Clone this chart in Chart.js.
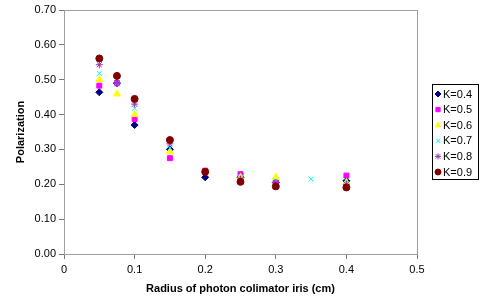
<!DOCTYPE html>
<html>
<head>
<meta charset="utf-8">
<script src="https://cdn.jsdelivr.net/npm/chart.js@4.4.0/dist/chart.umd.min.js"></script>
<style>
  html, body { margin: 0; padding: 0; background: #fff; }
  #wrap { width: 481px; height: 297px; position: relative; }
</style>
</head>
<body>
<div id="wrap"><canvas id="chart" width="481" height="297"></canvas></div>
<script>
// radius values (cm) and polarization per K series
const radius = [0.05, 0.075, 0.1, 0.15, 0.2, 0.25, 0.3, 0.4];
const radiusK07 = [0.05, 0.075, 0.1, 0.15, 0.2, 0.25, 0.3, 0.35, 0.4];
const seriesNames = ['K=0.4', 'K=0.5', 'K=0.6', 'K=0.7', 'K=0.8', 'K=0.9'];

const polK04 = [0.464, 0.490, 0.370, 0.300, 0.220, 0.220, 0.205, 0.210];
const polK05 = [0.483, 0.490, 0.387, 0.275, 0.239, 0.229, 0.207, 0.225];
const polK06 = [0.500, 0.459, 0.400, 0.293, 0.235, 0.220, 0.220, 0.205];
const polK07 = [0.518, 0.490, 0.418, 0.304, 0.235, 0.220, 0.210, 0.215, 0.210];
const polK08 = [0.543, 0.492, 0.430, 0.316, 0.235, 0.215, 0.205, 0.200];
const polK09 = [0.561, 0.511, 0.445, 0.327, 0.236, 0.207, 0.194, 0.191];

const yTicks = [0, 0.1, 0.2, 0.3, 0.4, 0.5, 0.6, 0.7];
const xTicks = [0, 0.1, 0.2, 0.3, 0.4, 0.5];

const FONT = "'Liberation Sans', Arial, sans-serif";

function pts(xs, ys) {
    return xs.map((x, i) => ({ x: x, y: ys[i] }));
}

const styles = [
    { pointStyle: 'rectRot', color: '#000080', r: 3.5 },
    { pointStyle: 'rect', color: '#ff00ff', r: 3.5 },
    { pointStyle: 'triangle', color: '#ffff00', r: 4 },
    { pointStyle: 'crossRot', color: '#00ffff', r: 3.5 },
    { pointStyle: 'star', color: '#9933aa', r: 3.5 },
    { pointStyle: 'circle', color: '#800000', r: 3.5 },
];

const allData = [
    pts(radius, polK04), pts(radius, polK05), pts(radius, polK06),
    pts(radiusK07, polK07), pts(radius, polK08), pts(radius, polK09)
];

const datasets = seriesNames.map((name, i) => ({
    label: name,
    data: allData[i],
    pointStyle: styles[i].pointStyle,
    pointRadius: styles[i].r,
    pointHoverRadius: styles[i].r,
    backgroundColor: styles[i].color,
    borderColor: styles[i].color,
    borderWidth: 1,
    showLine: false,
    order: seriesNames.length - i
}));

// gray plot-area frame behind the points
const plotFrame = {
    id: 'plotFrame',
    beforeDatasetsDraw(chart) {
        const { ctx, chartArea: a } = chart;
        ctx.save();
        ctx.strokeStyle = '#a0a0a0';
        ctx.lineWidth = 1;
        ctx.strokeRect(Math.round(a.left) + 0.5, Math.round(a.top) + 0.5,
            Math.round(a.right - a.left), Math.round(a.bottom - a.top));
        ctx.restore();
    }
};

// boxed legend at the right like the original
const boxLegend = {
    id: 'boxLegend',
    afterDraw(chart) {
        const ctx = chart.ctx;
        const left = 432, top = 84, w = 46, h = 95, row = 15.6;
        ctx.save();
        ctx.strokeStyle = '#000';
        ctx.lineWidth = 1;
        ctx.strokeRect(left + 0.5, top + 0.5, w, h);
        ctx.font = '11px ' + FONT;
        ctx.textBaseline = 'middle';
        ctx.fillStyle = '#000';
        chart.data.datasets.forEach((ds, i) => {
            const y = top + 10 + i * row;
            ctx.fillStyle = ds.backgroundColor;
            ctx.strokeStyle = ds.borderColor;
            ctx.lineWidth = 1;
            Chart.helpers.drawPoint(ctx, { pointStyle: ds.pointStyle, radius: 3, borderWidth: 1 }, left + 6, y);
            ctx.fillStyle = '#000';
            ctx.fillText(ds.label, left + 11, y + 0.5);
        });
        ctx.restore();
    }
};

new Chart(document.getElementById('chart'), {
    type: 'scatter',
    data: { datasets: datasets },
    options: {
        responsive: false,
        animation: false,
        layout: { padding: { top: 10, right: 64, left: 0, bottom: 0 } },
        plugins: {
            legend: { display: false },
            tooltip: { enabled: false }
        },
        scales: {
            x: {
                type: 'linear',
                min: 0,
                max: 0.5,
                afterBuildTicks: (axis) => { axis.ticks = xTicks.map(v => ({ value: v })); },
                afterFit: (axis) => { axis.height = 43; },
                ticks: {
                    color: '#000',
                    font: { family: FONT, size: 11 },
                    padding: 4,
                    maxRotation: 0,
                    callback: (v) => String(Math.round(v * 10) / 10)
                },
                grid: { drawOnChartArea: false, drawTicks: true, tickLength: 5, color: '#777' },
                border: { display: true, color: '#777' },
                title: {
                    display: true,
                    text: 'Radius of photon colimator iris (cm)',
                    color: '#000',
                    font: { family: FONT, size: 11, weight: 'bold' },
                    padding: { top: 0, bottom: 1 }
                }
            },
            y: {
                type: 'linear',
                min: 0,
                max: 0.7,
                afterBuildTicks: (axis) => { axis.ticks = yTicks.map(v => ({ value: v })); },
                afterFit: (axis) => { axis.width = 64; },
                ticks: {
                    color: '#000',
                    font: { family: FONT, size: 11 },
                    padding: 3,
                    callback: (v) => v.toFixed(2)
                },
                grid: { drawOnChartArea: false, drawTicks: true, tickLength: 5, color: '#777' },
                border: { display: true, color: '#777' },
                title: {
                    display: true,
                    text: 'Polarization',
                    color: '#000',
                    font: { family: FONT, size: 11, weight: 'bold' },
                    padding: { top: 14, bottom: 0 }
                }
            }
        }
    },
    plugins: [plotFrame, boxLegend]
});
</script>
</body>
</html>
